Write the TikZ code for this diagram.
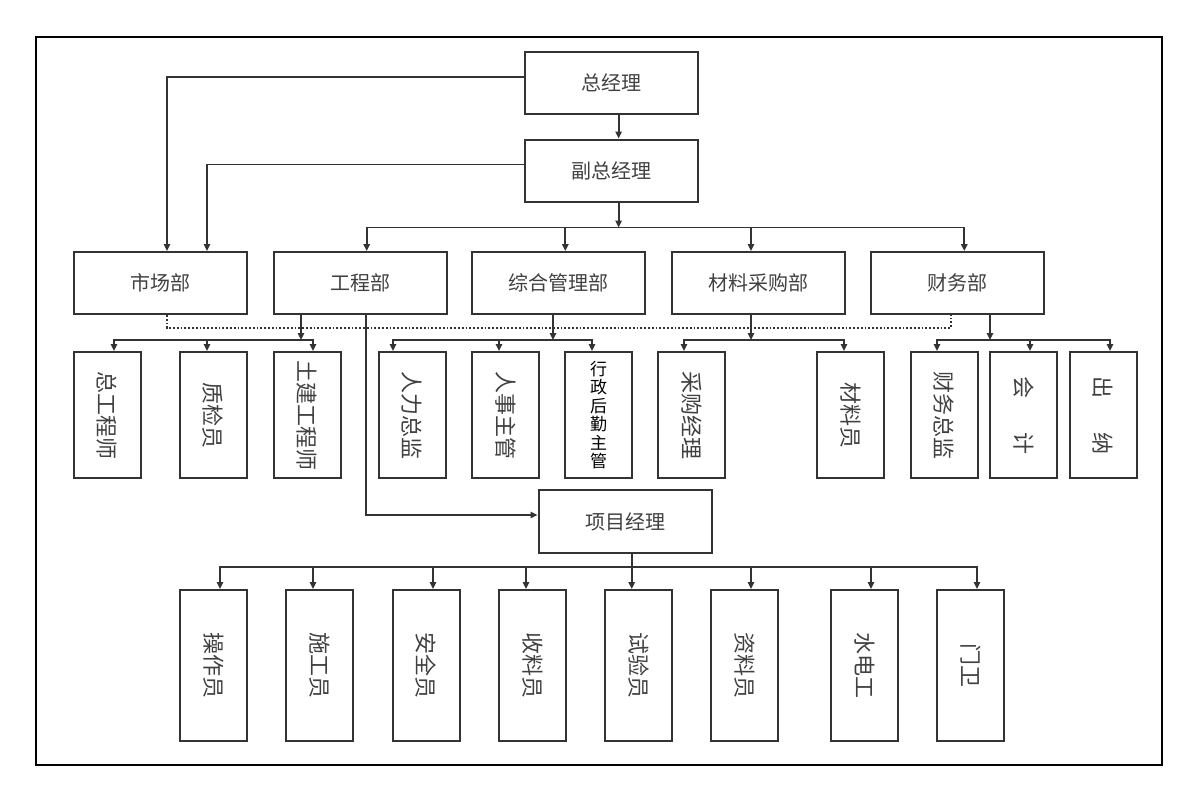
\documentclass[tikz,border=0pt]{standalone}
\usepackage{fontspec}
\newfontfamily\cjk{Noto Sans CJK SC}
\usetikzlibrary{arrows.meta,calc,positioning}

\begin{document}
\begin{tikzpicture}[x=0.5pt,y=-0.5pt,
  box/.style={draw=black!80,line width=1pt,minimum width=86.5pt,minimum height=31pt,
    inner sep=0pt,font=\cjk\fontsize{10}{12}\selectfont,text=black!75},
  vbox/.style={draw=black!80,line width=1pt,minimum width=33.5pt,inner sep=0pt,
    font=\cjk\fontsize{11}{12}\selectfont,text=black!75},
  conn/.style={draw=black!80,line width=0.9pt},
  arr/.style={conn,-{Triangle[length=3.5pt,width=3.2pt]}}]
\useasboundingbox (0,0) rectangle (1200,800);
\draw[line width=0.75pt] (36,37) rectangle (1162,765);

% Management
\node[box] (gm) at (611,83) {总经理};
\node[box] (vgm) at (611,170.5) {副总经理};

% Departments
\foreach \n/\x/\t in {mkt/160.5/市场部,eng/360/工程部,gen/558/综合管理部,mat/758/材料采购部,fin/957/财务部}
    \node[box] (\n) at (\x,283) {\t};

% Department staff
\foreach \n/\x/\t in {cg/107/总工程师,qc/213/质检员,ce/307/土建工程师,hr/412/人力总监,hs/505.5/人事主管,pur/691.5/采购经理,mm/850.5/材料员,cfo/944/财务总监}
    \node[vbox,minimum height=63pt] (\n) at (\x,415) {\rotatebox{-90}{\t}};
\node[vbox,minimum height=63pt,align=center,text=black,
  font=\cjk\fontsize{8.5}{9.2}\selectfont] (adm) at (598.5,415) {行\\政\\后\\勤\\主\\管};
\node[vbox,minimum height=63pt] (acc) at (1023.5,415) {\rotatebox{-90}{会\hspace{17pt}计}};
\node[vbox,minimum height=63pt] (cash) at (1103,415) {\rotatebox{-90}{出\hspace{17pt}纳}};

% Project staff
\node[box,minimum height=31.5pt] (pm) at (625,521.5) {项目经理};
\foreach \n/\x/\t in {op/213.5/操作员,con/319.5/施工员,saf/426/安全员,rec/532.5/收料员,tst/638.5/试验员,doc/744.5/资料员,elec/864.5/水电工,gate/970.5/门卫}
    \node[vbox,minimum height=75.5pt] (\n) at (\x,665.5) {\rotatebox{-90}{\t}};

% Top links
\draw[arr] ([xshift=3.8pt]gm.south) -- ([xshift=3.8pt]vgm.north);
\draw[arr] ([yshift=3pt]gm.west) -| ([xshift=3.25pt]mkt.north);
\draw[arr] ([yshift=3pt]vgm.west) -| ([xshift=23.25pt]mkt.north);
\coordinate (vgm-bus) at ([xshift=3.8pt,yshift=-12.5pt]vgm.south);
\draw[arr] ([xshift=3.8pt]vgm.south) -- (vgm-bus);
\foreach \n/\s in {eng/3.35pt,gen/3.65pt,mat/-3.5pt,fin/3.65pt}
    \draw[arr] (vgm-bus) -| ([xshift=\s]\n.north);

% Department buses
\foreach \d/\s in {eng/-29.5pt,gen/-2.5pt,mat/-3.5pt,fin/16.5pt}{
    \coordinate (\d-bus) at ([xshift=\s,yshift=-12.5pt]\d.south);
    \draw[arr] ([xshift=\s]\d.south) -- (\d-bus);
}
\foreach \d/\k/\s in {eng/cg/3.5pt,eng/qc/-3pt,eng/ce/3pt,gen/hr/-9.5pt,gen/hs/-3.25pt,gen/adm/-3.25pt,mat/pur/-3.75pt,mat/mm/-3.25pt,fin/cfo/-3.5pt,fin/acc/3.25pt,fin/cash/3.5pt}
    \draw[arr] (\d-bus) -| ([xshift=\s]\k.north);
\draw[conn,densely dotted] ([xshift=3.25pt]mkt.south) -- ++(0,13) -| ([xshift=-3pt]fin.south);

% Project links
\draw[arr] ([xshift=3pt]eng.south) |- ([yshift=3.25pt]pm.west);
\coordinate (pm-bus) at ([xshift=3.35pt,yshift=-6.5pt]pm.south);
\draw[conn] ([xshift=3.35pt]pm.south) -- (pm-bus);
\foreach \k/\s in {op/3.25pt,con/-3.25pt,saf/3.5pt,rec/-3.25pt,tst/-3.4pt,doc/3.25pt,elec/3.25pt,gate/3.25pt}
    \draw[arr] (pm-bus) -| ([xshift=\s]\k.north);
\end{tikzpicture}
\end{document}
